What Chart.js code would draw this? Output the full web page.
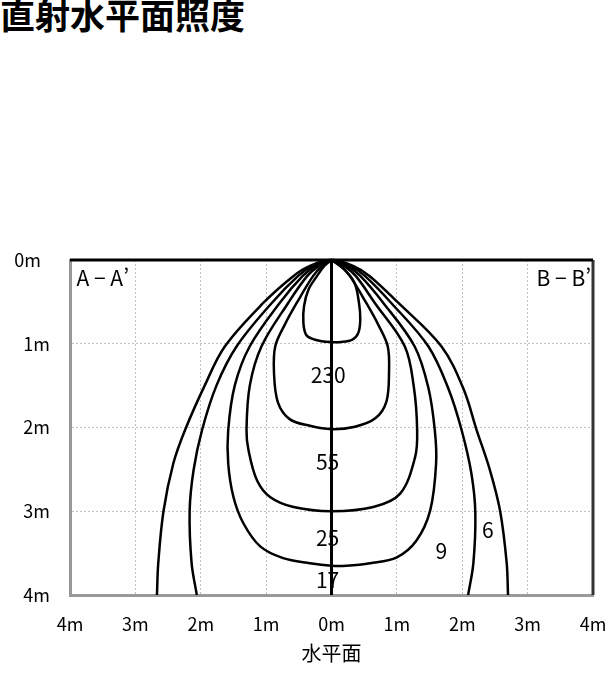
<!DOCTYPE html>
<html lang="ja">
<head>
<meta charset="utf-8">
<title>直射水平面照度</title>
<script src="https://cdn.jsdelivr.net/npm/chart.js@4.4.1/dist/chart.umd.min.js"></script>
<style>
    body { margin: 0; background: #fff; }
    #wrap { position: relative; width: 611px; height: 674px; overflow: hidden; }
    #title {
        position: absolute; left: 0; top: -4px;
        font: bold 35px "Noto Sans CJK JP", sans-serif; line-height: 35px;
        color: #000; white-space: nowrap;
    }
    canvas { position: absolute; left: 0; top: 0; }
</style>
</head>
<body>
<div id="wrap">
    <div id="title">直射水平面照度</div>
    <canvas id="chart" width="611" height="674"></canvas>
</div>
<script>
// --- data (x: horizontal distance in m, y: depth in m) ---
const contour1 = [[0,0],[-0.11,0.07],[-0.22,0.19],[-0.35,0.35],[-0.42,0.55],[-0.43,0.75],[-0.39,0.89],[-0.30,0.94],[-0.15,0.97],[0,0.98],
                  [0.14,0.98],[0.32,0.95],[0.41,0.87],[0.44,0.71],[0.42,0.51],[0.35,0.27],[0.19,0.11],[0,0]];
const contour2 = [[0,0],[-0.14,0.07],[-0.28,0.19],[-0.53,0.51],[-0.72,0.78],[-0.86,1.03],[-0.88,1.34],[-0.82,1.70],[-0.64,1.90],[-0.33,1.98],[0,2.02],
                  [0.36,1.99],[0.67,1.89],[0.84,1.69],[0.88,1.33],[0.86,1.03],[0.72,0.78],[0.53,0.51],[0.28,0.19],[0.14,0.07],[0,0]];
const contour3 = [[0,0],[-0.19,0.07],[-0.37,0.19],[-0.66,0.51],[-1.07,1.03],[-1.25,1.50],[-1.30,2.03],[-1.27,2.27],[-1.14,2.63],[-0.94,2.83],[-0.58,2.95],[0,3.00],
                  [0.64,2.95],[1.05,2.79],[1.28,2.35],[1.31,2.03],[1.26,1.52],[1.12,1.03],[0.66,0.51],[0.37,0.19],[0.19,0.07],[0,0]];
const contour4 = [[0,0],[-0.24,0.07],[-0.44,0.19],[-0.79,0.51],[-1.25,1.03],[-1.48,1.50],[-1.58,2.03],[-1.58,2.43],[-1.50,2.83],[-1.35,3.14],[-1.09,3.42],[-0.74,3.56],[-0.33,3.62],[0,3.65],
                  [0.23,3.65],[0.59,3.62],[1.00,3.55],[1.30,3.35],[1.51,2.99],[1.60,2.43],[1.58,2.03],[1.48,1.52],[1.27,1.03],[0.79,0.51],[0.44,0.19],[0.24,0.07],[0,0]];
const contour5 = [[-2.06,4.0],[-2.14,3.62],[-2.17,3.00],[-2.11,2.51],[-1.98,2.03],[-1.76,1.50],[-1.45,1.03],[-0.91,0.51],[-0.51,0.19],[-0.29,0.07],[0,0],
                  [0.29,0.07],[0.51,0.19],[0.91,0.51],[1.48,1.03],[1.79,1.54],[1.99,2.03],[2.14,2.55],[2.20,3.02],[2.17,3.62],[2.09,4.0]];
const contour6 = [[-2.67,4.0],[-2.65,3.62],[-2.57,3.00],[-2.42,2.43],[-2.24,2.03],[-1.94,1.50],[-1.63,1.03],[-1.04,0.51],[-0.58,0.19],[-0.33,0.07],[0,0],
                  [0.33,0.07],[0.58,0.19],[1.02,0.51],[1.68,1.03],[2.02,1.54],[2.22,2.03],[2.42,2.50],[2.58,3.00],[2.68,3.62],[2.70,4.0]];

const contourText = ['230', '55', '25', '17', '9', '6'];
const contourTextX = [-0.05, -0.06, -0.06, -0.06, 1.68, 2.39];
const contourTextY = [1.37, 2.41, 3.32, 3.82, 3.48, 3.22];

const sectionText = ['A − A’', 'B − B’'];
const sectionX = [-3.9, 3.97];
const sectionY = [0.215, 0.215];

// frame lines
const topLine = [[-4, 0], [4, 0]];
const centerLine = [[0, 0], [0, 4]];
const rightLine = [[4, 0], [4, 4]];

const xTicks = [-4, -3, -2, -1, 0, 1, 2, 3, 4];
const yTicks = [0, 1, 2, 3, 4];

const FONT = '"Noto Sans CJK JP", sans-serif';

function toPoints(arr) {
    return arr.map(p => ({ x: p[0], y: p[1] }));
}

function lineSet(arr, color, width, tension) {
    return {
        data: toPoints(arr),
        showLine: true,
        borderColor: color,
        borderWidth: width,
        pointRadius: 0,
        tension: tension,
        fill: false,
        clip: 4
    };
}

// text labels drawn under the lines
const textPlugin = {
    id: 'contourText',
    beforeDatasetsDraw(chart) {
        const ctx = chart.ctx;
        const xs = chart.scales.x;
        const ys = chart.scales.y;
        ctx.save();
        ctx.fillStyle = '#000';
        ctx.textBaseline = 'middle';
        ctx.font = '21px ' + FONT;
        ctx.textAlign = 'center';
        contourText.forEach((t, i) => {
            ctx.fillText(t, xs.getPixelForValue(contourTextX[i]), ys.getPixelForValue(contourTextY[i]));
        });
        sectionText.forEach((t, i) => {
            ctx.textAlign = i === 0 ? 'left' : 'right';
            ctx.fillText(t, xs.getPixelForValue(sectionX[i]), ys.getPixelForValue(sectionY[i]));
        });
        ctx.restore();
    }
};

const ctx = document.getElementById('chart');

new Chart(ctx, {
    type: 'scatter',
    data: {
        datasets: [
            lineSet(centerLine, '#000', 3, 0),
            lineSet(topLine, '#000', 3, 0),
            lineSet(rightLine, '#333', 3, 0),
            lineSet(contour1, '#000', 2.5, 0.35),
            lineSet(contour2, '#000', 2.5, 0.35),
            lineSet(contour3, '#000', 2.5, 0.35),
            lineSet(contour4, '#000', 2.5, 0.35),
            lineSet(contour5, '#000', 2.5, 0.35),
            lineSet(contour6, '#000', 2.5, 0.35)
        ]
    },
    options: {
        responsive: false,
        animation: false,
        layout: { padding: { left: 0, right: 18, top: 260, bottom: 0 } },
        plugins: {
            legend: { display: false },
            tooltip: { enabled: false }
        },
        scales: {
            x: {
                type: 'linear',
                min: -4,
                max: 4,
                afterFit: s => { s.height = 79; s.paddingLeft = 0; s.paddingRight = 0; },
                afterBuildTicks: s => { s.ticks = xTicks.map(v => ({ value: v })); },
                grid: { color: '#c0c0c0', lineWidth: 1, drawTicks: false },
                border: { color: '#999', width: 3, dash: [2, 2] },
                ticks: {
                    padding: 18,
                    color: '#000',
                    font: { family: FONT, size: 18 },
                    maxRotation: 0,
                    callback: v => Math.abs(v) + 'm'
                },
                title: {
                    display: true,
                    text: '水平面',
                    color: '#000',
                    font: { family: FONT, size: 20 },
                    padding: { top: 0, bottom: 9 }
                }
            },
            y: {
                type: 'linear',
                reverse: true,
                min: 0,
                max: 4,
                afterFit: s => { s.width = 70; s.paddingTop = 0; s.paddingBottom = 0; },
                afterBuildTicks: s => { s.ticks = yTicks.map(v => ({ value: v })); },
                grid: { color: '#c0c0c0', lineWidth: 1, drawTicks: false },
                border: { color: '#999', width: 3, dash: [2, 2] },
                ticks: {
                    padding: 20,
                    color: '#000',
                    font: { family: FONT, size: 18 },
                    callback: v => (v === 0 ? '0m\u2002' : v + 'm')
                }
            }
        }
    },
    plugins: [textPlugin]
});
</script>
</body>
</html>
